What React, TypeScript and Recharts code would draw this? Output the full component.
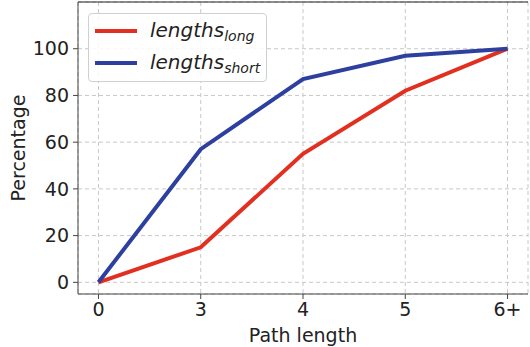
import { LineChart, Line, XAxis, YAxis, CartesianGrid, ReferenceLine } from 'recharts';

const pathLengths = ['0', '3', '4', '5', '6+'];
const lengthsLong = [0, 15, 55, 82, 100];
const lengthsShort = [0, 57, 87, 97, 100];
const yTicks = [0, 20, 40, 60, 80, 100];

const RED = '#e1301f';
const BLUE = '#2d3f9f';
const FONT = '"DejaVu Sans", sans-serif';

const data = pathLengths.map((label, i) => ({
  idx: i,
  label,
  long: lengthsLong[i],
  short: lengthsShort[i],
}));

const legendItems = [
  { name: 'lengths', sub: 'long', color: RED },
  { name: 'lengths', sub: 'short', color: BLUE },
];

// legend box in the top-left corner, like matplotlib's default frame
const LegendBox = () => (
  <div
    style={{
      position: 'absolute',
      left: 88,
      top: 13,
      border: '1px solid #d0d0d0',
      borderRadius: 4,
      background: 'rgba(255,255,255,0.85)',
      padding: '1px 6px 2px 6px',
      fontFamily: FONT,
    }}
  >
    {legendItems.map((item) => (
      <div key={item.sub} style={{ display: 'flex', alignItems: 'center', height: 32 }}>
        <div style={{ width: 42, height: 4, background: item.color, marginRight: 13 }} />
        <span style={{ fontStyle: 'italic', fontSize: 20, color: '#222' }}>
          {item.name}
          <sub style={{ fontSize: 14, verticalAlign: -4 }}>{item.sub}</sub>
        </span>
      </div>
    ))}
  </div>
);

export default function App() {
  return (
    <div style={{ position: 'absolute', left: 0, top: 0, width: 530, height: 347, background: '#fff' }}>
      <LineChart width={530} height={347} data={data} margin={{ top: 2, right: 2, left: 0, bottom: 0 }}>
        <CartesianGrid stroke="#c8c8c8" strokeDasharray="4 3" />
        <XAxis
          dataKey="idx"
          type="number"
          domain={[-0.2, 4.2]}
          ticks={[0, 1, 2, 3, 4]}
          tickFormatter={(v: number) => pathLengths[v]}
          height={53}
          stroke="#444"
          tickSize={5}
          tick={{ fill: '#222', fontSize: 19, fontFamily: FONT, dy: 2 }}
          label={{ value: 'Path length', position: 'insideBottom', offset: 5, fill: '#222', fontSize: 19, fontFamily: FONT }}
        />
        <YAxis
          type="number"
          domain={[-5, 120]}
          ticks={yTicks}
          width={78}
          stroke="#444"
          tickSize={5}
          tick={{ fill: '#222', fontSize: 19, fontFamily: FONT, dx: -2 }}
          label={{ value: 'Percentage', angle: -90, position: 'insideLeft', offset: 18, fill: '#222', fontSize: 19, fontFamily: FONT, style: { textAnchor: 'middle' } }}
        />
        <ReferenceLine y={120} stroke="#222" strokeWidth={1.2} />
        <Line dataKey="long" stroke={RED} strokeWidth={4} dot={false} isAnimationActive={false} />
        <Line dataKey="short" stroke={BLUE} strokeWidth={4} dot={false} isAnimationActive={false} />
      </LineChart>
      <LegendBox />
    </div>
  );
}
